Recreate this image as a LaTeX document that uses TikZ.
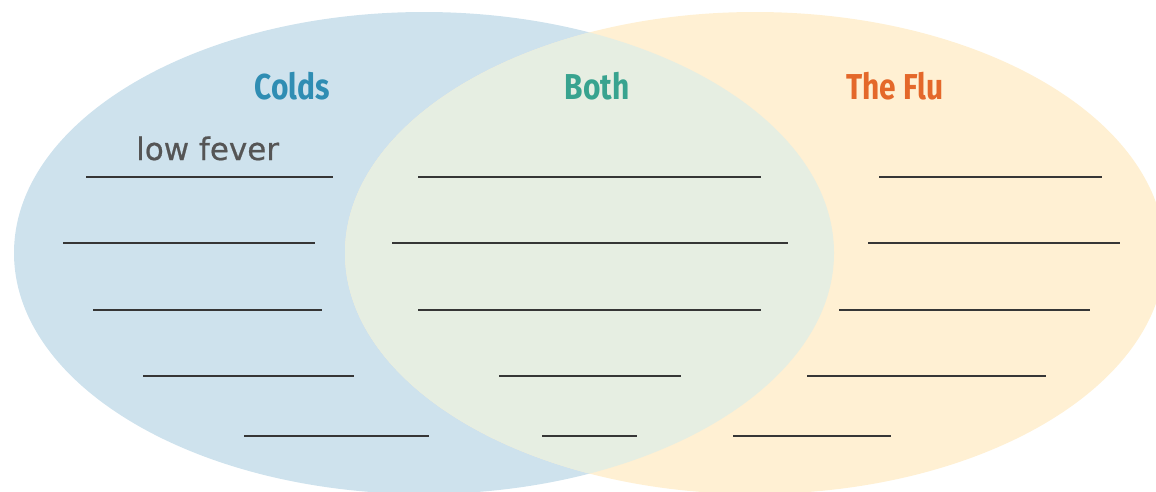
\documentclass[tikz,border=0pt]{standalone}
\usepackage{fontspec}
\newfontfamily\headfont{Fira Sans}[FakeStretch=0.83]
\newfontfamily\notefont{DejaVu Sans}[FakeBold=0.6]
\definecolor{coldblue}{HTML}{CEE2ED}
\definecolor{flucream}{HTML}{FFF0D3}
\definecolor{bothmix}{HTML}{E6EEE2}
\definecolor{coldtitle}{HTML}{2F8DB3}
\definecolor{bothtitle}{HTML}{38A38F}
\definecolor{flutitle}{HTML}{E4682A}
\definecolor{blankline}{HTML}{363636}
\definecolor{notegray}{HTML}{555555}
\begin{document}
\begin{tikzpicture}[x=1pt,y=-1pt,
  heading/.style={font=\headfont\bfseries\fontsize{36}{36}\selectfont, anchor=base, inner sep=0pt},
  note/.style={font=\notefont\fontsize{31}{31}\selectfont, text=notegray, anchor=base west, inner sep=0pt},
  blank/.style={draw=blankline, line width=1.8pt}]
\useasboundingbox (0,0) rectangle (1156,491);

% the two sets
\fill[coldblue] (424,253) ellipse [x radius=410, y radius=241];
\fill[flucream] (755,253) ellipse [x radius=410, y radius=241];
\begin{scope}
  \clip (424,253) ellipse [x radius=410, y radius=241];
  \fill[bothmix] (755,253) ellipse [x radius=410, y radius=241];
\end{scope}

% headings
\node[heading, text=coldtitle] (colds) at (292,99) {Colds};
\node[heading, text=bothtitle] (both) at (597,99) {Both};
\node[heading, text=flutitle] (flu) at (895,99) {The Flu};

% sample entry
\node[note] (lowfever) at (136,160) {low fever};

% writing lines: colds
\draw[blank] (86,177) -- (333,177);
\draw[blank] (63,243) -- (315,243);
\draw[blank] (93,310) -- (322,310);
\draw[blank] (143,376) -- (354,376);
\draw[blank] (244,436) -- (429,436);

% writing lines: both
\draw[blank] (418,177) -- (761,177);
\draw[blank] (392,243) -- (788,243);
\draw[blank] (418,310) -- (761,310);
\draw[blank] (499,376) -- (681,376);
\draw[blank] (542,436) -- (637,436);

% writing lines: the flu
\draw[blank] (879,177) -- (1102,177);
\draw[blank] (868,243) -- (1120,243);
\draw[blank] (839,310) -- (1090,310);
\draw[blank] (807,376) -- (1046,376);
\draw[blank] (733,436) -- (891,436);
\end{tikzpicture}
\end{document}
